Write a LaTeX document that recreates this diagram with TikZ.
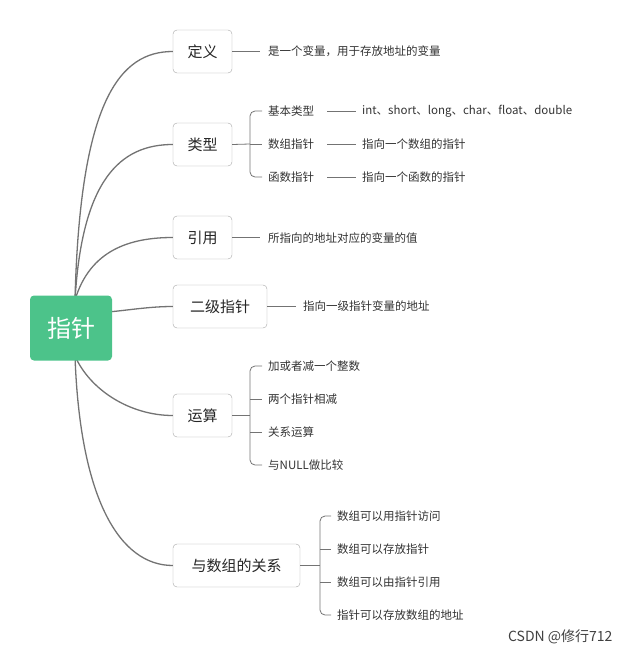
\documentclass[tikz,border=0pt]{standalone}
\usepackage{fontspec}
\setmainfont{Noto Sans CJK SC}
\definecolor{rootg}{HTML}{4CC38A}
\begin{document}
\begin{tikzpicture}[x=1pt,y=-1pt,
  br/.style={draw=black!35,rounded corners=4pt,fill=white,minimum height=43pt,inner xsep=12pt,font=\fontsize{15}{15}\selectfont,text=black!85},
  lf/.style={anchor=west,inner sep=0pt,font=\fontsize{11.5}{12}\selectfont,text=black!80},
  ln/.style={draw=black!55,line width=0.8pt},
  cv/.style={draw=black!55,line width=1.3pt}]
\useasboundingbox (0,0) rectangle (629,658);
\node[br,minimum width=59pt] (a) at (202.5,51.5) {定义};
\node[br,minimum width=59pt] (b) at (202.5,144.5) {类型};
\node[br,minimum width=59pt] (c) at (202.5,237.5) {引用};
\node[br,minimum width=94pt] (d) at (220,306.5) {二级指针};
\node[br,minimum width=59pt] (e) at (202.5,415.5) {运算};
\node[br,minimum width=127pt] (f) at (236.5,565.5) {与数组的关系};
\coordinate (rt) at (75,300);
\coordinate (rb) at (75,356);
\coordinate (re) at (108,312);
\draw[cv] (rt) .. controls (80,100) and (120,51.5) .. (a.west);
\draw[cv] (rt) .. controls (82,180) and (120,144.5) .. (b.west);
\draw[cv] (rt) .. controls (90,250) and (130,237.5) .. (c.west);
\draw[cv] (re) .. controls (130,310) and (150,306.5) .. (d.west);
\draw[cv] (rb) .. controls (90,390) and (130,415.5) .. (e.west);
\draw[cv] (rb) .. controls (80,500) and (120,565.5) .. (f.west);
\node[fill=rootg,rounded corners=4pt,minimum width=82pt,minimum height=65pt,text=white,font=\fontsize{24}{24}\selectfont] (root) at (71,328) {指针};
% 定义
\node[lf] (a1) at (268,51) {是一个变量，用于存放地址的变量};
\draw[ln] (a.east) -- (260,51.5);
% 类型
\node[lf] (b1) at (268,111) {基本类型};
\node[lf] (b2) at (268,144) {数组指针};
\node[lf] (b3) at (268,177) {函数指针};
\node[lf] (b1a) at (362,111) {int、short、long、char、float、double};
\node[lf] (b2a) at (362,144) {指向一个数组的指针};
\node[lf] (b3a) at (362,177) {指向一个函数的指针};
\draw[ln] (b.east) -- (250,144);
\draw[ln,rounded corners=5pt] (262,111) -- (250,111) -- (250,177) -- (262,177);
\draw[ln] (250,144) -- (262,144);
\draw[ln] (327,111) -- (356,111);
\draw[ln] (327,144) -- (356,144);
\draw[ln] (327,177) -- (356,177);
% 引用
\node[lf] (c1) at (268,238) {所指向的地址对应的变量的值};
\draw[ln] (c.east) -- (260,237.5);
% 二级指针
\node[lf] (d1) at (303,306) {指向一级指针变量的地址};
\draw[ln] (d.east) -- (296,306.5);
% 运算
\node[lf] (e1) at (268,366) {加或者减一个整数};
\node[lf] (e2) at (268,399) {两个指针相减};
\node[lf] (e3) at (268,432) {关系运算};
\node[lf] (e4) at (268,465) {与NULL做比较};
\draw[ln] (e.east) -- (250,415.5);
\draw[ln,rounded corners=5pt] (262,366) -- (250,366) -- (250,465) -- (262,465);
\draw[ln] (250,399) -- (262,399);
\draw[ln] (250,432) -- (262,432);
% 数组
\node[lf] (f1) at (337,516) {数组可以用指针访问};
\node[lf] (f2) at (337,549) {数组可以存放指针};
\node[lf] (f3) at (337,582) {数组可以由指针引用};
\node[lf] (f4) at (337,615) {指针可以存放数组的地址};
\draw[ln] (f.east) -- (320,565.5);
\draw[ln,rounded corners=5pt] (331,516) -- (320,516) -- (320,615) -- (331,615);
\draw[ln] (320,549) -- (331,549);
\draw[ln] (320,582) -- (331,582);
\node[anchor=east,font=\fontsize{14}{14}\selectfont,text=black!75] (wm) at (616,637) {CSDN @修行712};
\end{tikzpicture}
\end{document}
